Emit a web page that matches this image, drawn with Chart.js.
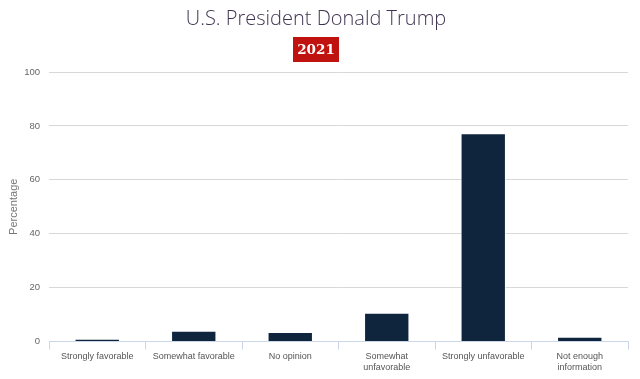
<!DOCTYPE html>
<html>
<head>
<meta charset="utf-8">
<script src="https://cdn.jsdelivr.net/npm/chart.js@4.4.0/dist/chart.umd.min.js"></script>
<style>
  html, body { margin: 0; padding: 0; background: #fff; }
  #wrap { width: 640px; height: 379px; position: relative; }
</style>
</head>
<body>
<div id="wrap"><canvas id="chart"></canvas></div>
<script>
const categories = [
    'Strongly favorable',
    'Somewhat favorable',
    'No opinion',
    ['Somewhat', 'unfavorable'],
    'Strongly unfavorable',
    ['Not enough', 'information']
];
const percentages = [1, 4, 3.5, 10.7, 77.3, 1.8];
const yTicks = [0, 20, 40, 60, 80, 100];
const chartTitle = 'U.S. President Donald Trump';
const yearLabel = '2021';

// dibuja la etiqueta roja del año debajo del título
const yearBadge = {
    id: 'yearBadge',
    afterDraw(chart) {
        const ctx = chart.ctx;
        const titleBox = chart.boxes.find(b => b.options && b.options.text === chartTitle);
        const cx = titleBox ? titleBox.left + titleBox.width / 2 : chart.width / 2;
        const cy = 49.5;
        ctx.save();
        ctx.fillStyle = '#c0130f';
        ctx.fillRect(cx - 23, cy - 12.5, 46, 25);
        ctx.font = 'bold 13.5px "DejaVu Serif", "Liberation Serif", serif';
        ctx.fillStyle = '#ffffff';
        ctx.textAlign = 'center';
        ctx.textBaseline = 'middle';
        ctx.fillText(yearLabel, cx, cy + 1);
        ctx.restore();
    }
};

const ctx = document.getElementById('chart').getContext('2d');
const chart = new Chart(ctx, {
    type: 'bar',
    data: {
        labels: categories,
        datasets: [{
            label: 'Percentage',
            data: percentages,
            backgroundColor: '#0f243d',
            borderColor: 'rgba(255, 255, 255, 0.7)',
            borderWidth: 1,
            barPercentage: 0.47,
            categoryPercentage: 1
        }]
    },
    options: {
        responsive: true,
        maintainAspectRatio: false,
        animation: false,
        layout: { padding: { left: 4, right: 12, top: 7, bottom: 5 } },
        plugins: {
            legend: { display: false },
            tooltip: { enabled: false },
            title: {
                display: true,
                text: chartTitle,
                color: '#3f3450',
                font: { family: '"Open Sans", sans-serif', size: 20, weight: '300' },
                padding: { top: 0, bottom: 41 }
            }
        },
        scales: {
            x: {
                grid: {
                    drawOnChartArea: false,
                    color: '#ccd6eb',
                    tickLength: 8
                },
                border: { color: '#ccd6eb' },
                ticks: {
                    color: '#555',
                    font: { family: '"Liberation Sans", Arial, sans-serif', size: 9, lineHeight: 1.25 },
                    maxRotation: 0,
                    autoSkip: false,
                    padding: 1
                }
            },
            y: {
                min: 0,
                max: 100,
                afterBuildTicks(scale) {
                    scale.ticks = yTicks.map(v => ({ value: v }));
                },
                afterFit(scale) {
                    scale.width = 45;
                },
                grid: {
                    color: '#d8d8d8',
                    drawTicks: false
                },
                border: { display: false },
                ticks: {
                    color: '#666',
                    font: { family: '"Liberation Sans", Arial, sans-serif', size: 9.5 },
                    padding: 9
                },
                title: {
                    display: true,
                    text: 'Percentage',
                    color: '#777',
                    font: { family: '"Liberation Sans", Arial, sans-serif', size: 11 },
                    padding: { top: 3, bottom: 0 }
                }
            }
        }
    },
    plugins: [yearBadge]
});
</script>
</body>
</html>
